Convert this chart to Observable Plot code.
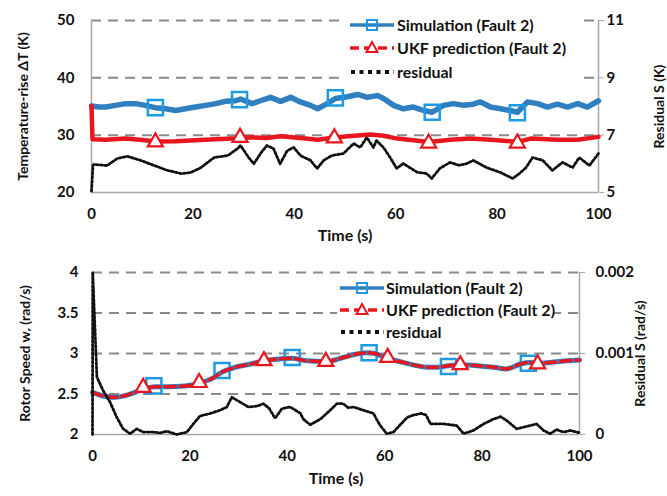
<!DOCTYPE html>
<html><head><meta charset="utf-8">
<script src="https://cdn.jsdelivr.net/npm/d3@7"></script>
<script src="https://cdn.jsdelivr.net/npm/@observablehq/plot@0.6"></script>
<style>
body{margin:0;background:#fff;font-family:Lato,"Open Sans",sans-serif;}
#wrap{position:relative;width:667px;height:496px;overflow:hidden;background:#fff;}
.panel{position:absolute;left:0;}
.legend{position:absolute;background:#fff;font-weight:700;font-size:16px;color:#111;font-family:Lato,sans-serif;}
.legend .row{position:absolute;left:0;height:20px;display:flex;align-items:center;white-space:nowrap;}
.legend svg{display:block;}
</style></head><body><div id="wrap"></div>
<script>
// ---------- data ----------
const xTicks = [0, 20, 40, 60, 80, 100];
const seriesNames = ["Simulation (Fault 2)", "UKF prediction (Fault 2)", "residual"];

// top panel: temperature rise (left axis, K) and residual (right axis, K)
const topLeftTicks = [20, 30, 40, 50];
const topRightTicks = [5, 7, 9, 11];
const topGrid = [30, 40, 50];
const simTopT = [0,1.5,2.8,4.7,6.7,8.7,10.6,12.6,14.6,16.6,18.5,20.5,22.5,24.5,26.4,28.4,29.4,31.7,33.3,35.3,37.3,39.3,41.2,43.2,44.6,46.5,48.1,50.5,52.5,54.4,56.4,57.6,59.6,61.5,63.5,65.5,67.2,69.4,71.4,73.4,75.3,76.7,78.7,80.7,82.6,84.0,86.0,88.0,89.9,91.9,93.9,95.9,97.8,100];
const simTopV = [35.1,34.9,34.9,35.2,35.5,35.5,35.2,34.8,34.6,34.3,34.6,34.9,35.2,35.5,35.9,36.0,36.3,35.5,36.0,36.6,35.9,36.6,35.8,35.2,34.6,35.5,36.4,36.7,37.1,36.6,36.9,36.4,35.2,34.6,34.9,34.3,34.0,35.2,35.5,35.2,35.4,35.8,34.9,34.6,34.3,34.0,35.8,35.5,34.9,35.4,34.9,35.5,34.9,36.0];
const ukfTopT = [0,0.2,2.8,6.7,10.6,12.6,16.6,20.5,24.5,27.8,29.3,32.2,34.5,37.3,41.2,44.6,47.9,51.8,55.0,57.6,60.3,63.5,66.5,70.8,74.7,78.7,82.6,84.0,86.6,91.9,95.9,100];
const ukfTopV = [35.1,29.3,29.2,29.4,29.1,28.9,28.95,29.1,29.3,29.4,29.6,29.6,29.5,29.8,29.5,29.2,29.6,29.9,30.1,29.9,29.4,29.1,28.8,29.2,29.4,29.2,28.95,28.8,29.4,29.2,29.2,29.7];
const resTopT = [0,0.3,0.5,3.1,5.1,7.1,9.7,12.4,15,17.7,19.6,21.6,24.2,26.9,28.8,29.4,31,32,33.5,34.6,35.9,37.2,38.6,39.9,41.2,43.2,44.5,45.8,47.4,49.7,51.7,53,54.3,55.6,56.2,57.6,58.9,60.2,61.5,64.2,66.1,67.1,68.7,70.7,72.5,74,75.3,77.9,80.5,83.1,84.4,85.7,87,89,90.9,92.9,94.9,96.2,98.2,100];
const resTopV = [5.05,5.95,5.98,5.94,6.19,6.26,6.12,5.94,5.77,5.66,5.70,5.87,6.22,6.29,6.53,6.64,6.22,6.00,6.40,6.64,6.53,6.00,6.46,6.57,6.29,6.12,5.84,6.12,6.29,6.36,6.71,6.57,6.92,6.57,6.81,6.57,6.22,5.84,6.01,5.71,5.66,5.49,5.84,6.05,5.95,6.01,6.12,5.87,5.71,5.49,5.66,5.87,6.22,6.12,5.77,6.05,5.87,6.22,5.94,6.36];
const sqTopT = [12.6, 29.2, 48.1, 67.2, 84.0];
const sqTopV = [34.8, 36.2, 36.5, 34.0, 33.9];
const triTopT = [12.6, 29.3, 47.9, 66.5, 84.0];
const triTopV = [28.8, 29.6, 29.5, 28.6, 28.6];

// bottom panel: rotor speed (left axis, rad/s) and residual (right axis, rad/s)
const botLeftTicks = [2, 2.5, 3, 3.5, 4];
const botRightTicks = [0, 0.001, 0.002];
const botGrid = [2.5, 3, 3.5, 4];
const simBotT = [0,2.6,4.6,6.7,8.7,10.4,12.8,15.5,19,21.7,24.5,26.6,29.3,32.5,35.1,37.9,40.9,44,47.8,51.5,54,56.4,58,60.5,63.8,66.6,68.8,70.8,73.1,75.5,79,82.4,85,87.9,89.6,91.3,94,97.5,100];
const simBotV = [2.52,2.47,2.46,2.48,2.52,2.56,2.59,2.59,2.60,2.63,2.69,2.77,2.83,2.87,2.91,2.93,2.94,2.91,2.90,2.95,2.99,3.01,3.00,2.94,2.89,2.85,2.83,2.83,2.85,2.86,2.85,2.83,2.81,2.87,2.89,2.88,2.89,2.91,2.92];
const ukfBotT = [0,2.6,4.6,6.7,8.7,10.4,12.8,15.5,19,21.7,24.5,26.6,29.3,32.5,35.1,37.9,40.9,44,47.8,51.5,54,56.4,58,60.5,63.8,66.6,68.8,70.8,73.1,75.5,79,82.4,85,87.9,89.6,91.3,94,97.5,100];
const ukfBotV = [2.52,2.47,2.46,2.48,2.52,2.56,2.59,2.59,2.60,2.63,2.69,2.77,2.83,2.87,2.91,2.93,2.94,2.91,2.90,2.95,2.99,3.01,3.00,2.94,2.89,2.85,2.83,2.83,2.85,2.86,2.85,2.83,2.81,2.87,2.89,2.88,2.89,2.91,2.92];
const resBotT = [0,0.05,0.9,2.2,3.6,5.0,6.3,7.7,9.1,10.4,12.5,13.9,15.3,17.3,19.4,20.7,22.1,24.2,26.2,27.6,28.6,30.3,32.0,33.8,35.1,36.3,37.5,38.9,40.6,42.7,43.3,44.7,46.8,48.8,50.2,51.5,52.5,53.6,55.6,57.7,58.5,59.1,60.4,61.8,63.5,64.6,65.9,67.5,68.5,69.4,72.1,74.8,76.2,78.2,80.3,82.3,83.8,85.1,87.1,89.2,91.2,92.6,94,95.3,96.7,98.1,100];
const resBotV = [0,0.002,0.00071,0.00054,0.00040,0.00021,0.00007,0.00001,0.00007,0.00003,0.00003,0.00002,0.00004,0,0.00003,0.00013,0.00023,0.00026,0.00030,0.00034,0.00046,0.00040,0.00034,0.00035,0.00038,0.00032,0.00020,0.00032,0.00034,0.00026,0.00019,0.00012,0.00019,0.00030,0.00038,0.00038,0.00033,0.00034,0.00030,0.00026,0.00017,0.00011,0.00001,0.00003,0.00014,0.00021,0.00024,0.00026,0.00024,0.00013,0.00013,0.00011,0.00001,0.00005,0.00013,0.00019,0.00022,0.00017,0.00007,0.00010,0.00013,0.00005,0.00001,0.00006,0.00003,0.00005,0.00002];
const sqBotT = [12.6, 26.6, 41.0, 56.8, 73.1, 89.5];
const sqBotV = [2.60, 2.79, 2.95, 3.01, 2.84, 2.88];
const triBotT = [10.4, 21.9, 35.2, 47.9, 60.6, 75.5, 91.4];
const triBotV = [2.58, 2.64, 2.91, 2.90, 2.95, 2.86, 2.87];

// ---------- helpers ----------
const zip = (t, v) => t.map((x, i) => ({t: x, v: v[i]}));
const C = {blue: "#2f7fc1", sq: "#1e9be0", red: "#e8161e", black: "#111", grid: "#8a8a8a", axis: "#a6a6a6"};
// secondary-axis maps
const topR2L = r => 20 + (r - 5) * 5;
const botR2L = r => 2 + r * 1000;
const baseStyle = {fontFamily: "Lato, sans-serif", fontSize: "15px", fontWeight: "700", color: "#111", background: "transparent", overflow: "visible"};

function makePanel(o) {
  const rpos = o.rightTicks.map(o.r2l);
  return Plot.plot({
    width: 667, height: o.height,
    marginLeft: o.ml, marginRight: o.mr, marginTop: o.mt, marginBottom: o.mb,
    x: {domain: [0, 100]}, y: {domain: o.ydomain},
    style: baseStyle,
    marks: [
      Plot.ruleY(o.grid, {stroke: C.grid, strokeWidth: 2, strokeDasharray: "10,7"}),
      Plot.ruleX([0, 100], {stroke: C.axis, strokeWidth: 1.5}),
      Plot.ruleY([o.ydomain[0]], {stroke: C.axis, strokeWidth: 1.5}),
      Plot.axisY({ticks: o.leftTicks, tickFormat: d => String(d), tickSize: 0, tickPadding: o.lpad, label: null}),
      Plot.axisY({anchor: "right", ticks: rpos, tickFormat: d => String(o.rightTicks[rpos.findIndex(x => Math.abs(x - d) < 1e-9)]), tickSize: 5, tickPadding: o.rpad, stroke: C.axis, fill: "#111", label: null}),
      Plot.axisX({ticks: xTicks, tickSize: 0, tickPadding: 16, label: null}),
      Plot.text(["Time (s)"], {frameAnchor: "bottom", dy: o.timeDy, textAnchor: "middle", fontSize: 16, fontWeight: 700, fill: "#111"}),
      Plot.text([o.leftTitle], {frameAnchor: "left", dx: o.ltDx, textAnchor: "middle", rotate: -90, fontSize: 14, fontWeight: 700, fill: "#111"}),
      Plot.text([o.rightTitle], {frameAnchor: "right", dx: o.rtDx, textAnchor: "middle", rotate: -90, fontSize: 14, fontWeight: 700, fill: "#111"}),
      ...o.series
    ]
  });
}

const wrap = document.getElementById("wrap");

const topPlot = makePanel({
  height: 250, ml: 91, mr: 69, mt: 20, mb: 58, ydomain: [20, 50],
  grid: topGrid, leftTicks: topLeftTicks, rightTicks: topRightTicks, r2l: topR2L,
  lpad: 17, rpad: 3, timeDy: 48, ltDx: -68, rtDx: 61,
  leftTitle: "Temperature-rise ΔT (K)", rightTitle: "Residual S (K)",
  series: [
    Plot.line(zip(resTopT, resTopV), {x: "t", y: d => topR2L(d.v), stroke: C.black, strokeWidth: 2.8, strokeDasharray: "2,2.2"}),
    Plot.line(zip(simTopT, simTopV), {x: "t", y: "v", stroke: C.blue, strokeWidth: 5.5, strokeLinejoin: "round"}),
    Plot.dot(zip(sqTopT, sqTopV), {x: "t", y: "v", symbol: "square", r: 8.5, stroke: C.sq, strokeWidth: 2.5, fill: "none"}),
    Plot.line(zip(ukfTopT, ukfTopV), {x: "t", y: "v", stroke: C.red, strokeWidth: 4.5, strokeLinejoin: "round"}),
    Plot.dot(zip(triTopT, triTopV), {x: "t", y: "v", symbol: "triangle", r: 5.6, stroke: C.red, strokeWidth: 2.2, fill: "white"})
  ]
});
topPlot.classList.add("panel");
topPlot.style.top = "0px";
wrap.appendChild(topPlot);

const botPlot = makePanel({
  height: 246, ml: 92, mr: 88, mt: 22, mb: 62, ydomain: [2, 4],
  grid: botGrid, leftTicks: botLeftTicks, rightTicks: botRightTicks, r2l: botR2L,
  lpad: 14, rpad: 11, timeDy: 49, ltDx: -67, rtDx: 61,
  leftTitle: "Rotor Speed wᵣ (rad/s)", rightTitle: "Residual S (rad/s)",
  series: [
    Plot.line(zip(simBotT, simBotV), {x: "t", y: "v", stroke: C.blue, strokeWidth: 5, curve: "monotone-x"}),
    Plot.dot(zip(sqBotT, sqBotV), {x: "t", y: "v", symbol: "square", r: 8.5, stroke: C.sq, strokeWidth: 2.5, fill: "none"}),
    Plot.line(zip(ukfBotT, ukfBotV), {x: "t", y: "v", stroke: C.red, strokeWidth: 3.5, strokeDasharray: "10,5", curve: "monotone-x"}),
    Plot.dot(zip(triBotT, triBotV), {x: "t", y: "v", symbol: "triangle", r: 5.6, stroke: C.red, strokeWidth: 2.2, fill: "white"}),
    Plot.line(zip(resBotT, resBotV), {x: "t", y: d => botR2L(d.v), stroke: C.black, strokeWidth: 2.8, strokeDasharray: "2,2.2"})
  ]
});
botPlot.classList.add("panel");
botPlot.style.top = "250px";
wrap.appendChild(botPlot);

// ---------- legends ----------
function sample(kind) {
  const w = 44, h = 20;
  let s = `<svg width="${w}" height="${h}" viewBox="0 0 ${w} ${h}">`;
  if (kind === 0) {
    s += `<line x1="0" y1="10" x2="${w}" y2="10" stroke="${C.blue}" stroke-width="3.5"/>`;
    s += `<rect x="${w/2-5}" y="5" width="10" height="10" fill="none" stroke="${C.sq}" stroke-width="2"/>`;
  } else if (kind === 1) {
    s += `<line x1="0" y1="10" x2="${w}" y2="10" stroke="${C.red}" stroke-width="3.5" stroke-dasharray="9,5"/>`;
    s += `<path d="M${w/2},4 L${w/2+5.5},14 L${w/2-5.5},14 Z" fill="white" stroke="${C.red}" stroke-width="2"/>`;
  } else {
    s += `<line x1="1" y1="10" x2="${w}" y2="10" stroke="${C.black}" stroke-width="4" stroke-dasharray="4,4.5"/>`;
  }
  return s + `</svg>`;
}
function legend(left, top, width, height, rowYs, sampleX, textX) {
  const d = document.createElement("div");
  d.className = "legend";
  Object.assign(d.style, {left: left + "px", top: top + "px", width: width + "px", height: height + "px"});
  seriesNames.forEach((name, i) => {
    const r = document.createElement("div");
    r.className = "row";
    r.style.top = (rowYs[i] - 10) + "px";
    r.innerHTML = `<span style="position:absolute;left:${sampleX}px;top:0">${sample(i)}</span><span style="position:absolute;left:${textX}px;top:0;line-height:20px">${name}</span>`;
    d.appendChild(r);
  });
  wrap.appendChild(d);
}
legend(346, 10, 231, 74, [15, 38, 62], 4, 51);
legend(337, 277, 216, 64, [11, 33, 55], 3, 49);
</script>
</body></html>
